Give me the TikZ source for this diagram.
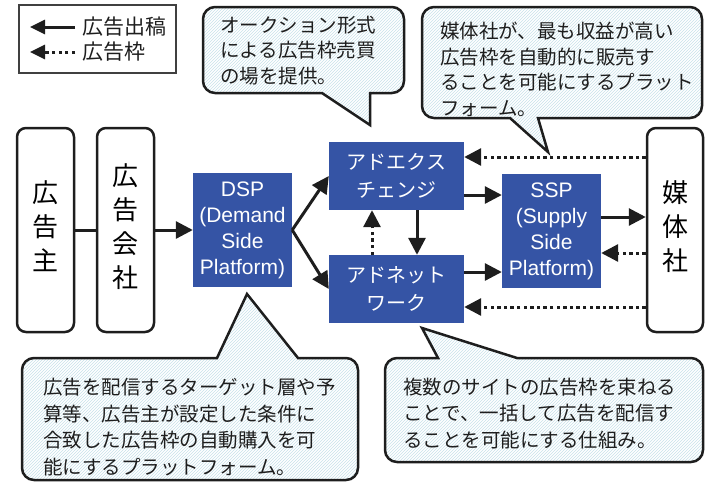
\documentclass[tikz,border=0pt]{standalone}
\usepackage{fontspec}
\setmainfont{Noto Sans CJK JP}
\newfontfamily\latfont{Liberation Sans}
\usetikzlibrary{arrows.meta,patterns}
\definecolor{boxblue}{RGB}{53,84,165}
\definecolor{ink}{RGB}{30,30,30}
\definecolor{hatch}{RGB}{200,226,234}
\begin{document}
\begin{tikzpicture}[x=1pt,y=-1pt,
  whitebox/.style={draw=ink,line width=2.5pt,rounded corners=9pt,fill=white,minimum width=57pt,minimum height=204pt,inner sep=0pt,align=center,font=\fontsize{26}{34}\selectfont},
  bluebox/.style={fill=boxblue,text=white,inner sep=0pt,align=center},
  jpblue/.style={bluebox,minimum width=135pt,minimum height=68pt,font=\fontsize{20}{28}\selectfont},
  latblue/.style={bluebox,minimum width=99pt,minimum height=114pt,font=\latfont\fontsize{21}{26}\selectfont},
  conn/.style={draw=ink,line width=3pt,-{Triangle[length=17pt,width=17pt]}},
  dotconn/.style={conn,dash pattern=on 3.3pt off 3.3pt},
  legconn/.style={draw=ink,line width=3pt,-{Triangle[length=15pt,width=14pt]}},
  legdot/.style={legconn,dash pattern=on 3.3pt off 3.3pt},
  bubble/.style={draw=ink,line width=2.5pt,preaction={fill=white},pattern=north east lines,pattern color=hatch},
  btext/.style={anchor=west,align=left,inner sep=0pt,text=ink,font=\fontsize{19.5}{25.5}\selectfont},
  btextb/.style={btext,font=\fontsize{19.5}{26.7}\selectfont},
  legtext/.style={anchor=west,inner sep=0pt,text=ink,font=\fontsize{21}{21}\selectfont}
]
\useasboundingbox (0,0) rectangle (707,483);

% legend
\node[draw=ink!85,line width=1.3pt,minimum width=157pt,minimum height=68pt,inner sep=0pt] (legend) at (97.5,39) {};
\node[legtext] (l1) at (82,27) {広告出稿};
\node[legtext] (l2) at (82,52) {広告枠};
\coordinate (l1e) at (30,27);
\coordinate (l2e) at (30,52);
\draw[legconn] ([xshift=-7pt]l1.west) -- (l1e);
\draw[legdot] ([xshift=-7pt]l2.west) -- (l2e);

% callouts
\draw[bubble] (215,7) -- (392,7) arc[start angle=-90,end angle=0,radius=12] -- (404,81) arc[start angle=0,end angle=90,radius=12] -- (370,93) -- (370,125) -- (322,93) -- (215,93) arc[start angle=90,end angle=180,radius=12] -- (203,19) arc[start angle=180,end angle=270,radius=12] -- cycle;
\draw[bubble] (434,7) -- (690,7) arc[start angle=-90,end angle=0,radius=12] -- (702,106) arc[start angle=0,end angle=90,radius=12] -- (538,118) -- (548,152) -- (510,118) -- (434,118) arc[start angle=90,end angle=180,radius=12] -- (422,19) arc[start angle=180,end angle=270,radius=12] -- cycle;
\draw[bubble] (34,358) -- (217,358) -- (247,294) -- (298,358) -- (346,358) arc[start angle=-90,end angle=0,radius=12] -- (358,468) arc[start angle=0,end angle=90,radius=12] -- (34,480) arc[start angle=90,end angle=180,radius=12] -- (22,370) arc[start angle=180,end angle=270,radius=12] -- cycle;
\draw[bubble] (397,358) -- (438,358) -- (422,328) -- (517,358) -- (691,358) arc[start angle=-90,end angle=0,radius=12] -- (703,450) arc[start angle=0,end angle=90,radius=12] -- (397,462) arc[start angle=90,end angle=180,radius=12] -- (385,370) arc[start angle=180,end angle=270,radius=12] -- cycle;

\node[btext] (t1) at (220,50.5) {オークション形式\\による広告枠売買\\の場を提供。};
\node[btext] (t2) at (440,69.5) {媒体社が、最も収益が高い\\広告枠を自動的に販売す\\ることを可能にするプラット\\フォーム。};
\node[btextb] (t3) at (43,427) {広告を配信するターゲット層や予\\算等、広告主が設定した条件に\\合致した広告枠の自動購入を可\\能にするプラットフォーム。};
\node[btextb] (t4) at (403,413.5) {複数のサイトの広告枠を束ねる\\ことで、一括して広告を配信す\\ることを可能にする仕組み。};

% main nodes
\node[whitebox] (adv) at (45.5,230) {\raisebox{-3pt}{\begin{tabular}{@{}c@{}}広\\告\\主\end{tabular}}};
\node[whitebox] (agency) at (125.5,230) {\raisebox{-3pt}{\begin{tabular}{@{}c@{}}広\\告\\会\\社\end{tabular}}};
\node[whitebox,minimum width=56pt] (media) at (675,230) {\raisebox{-3pt}{\begin{tabular}{@{}c@{}}媒\\体\\社\end{tabular}}};
\node[latblue] (dsp) at (242.5,230) {DSP\\(Demand\\Side\\Platform)};
\node[jpblue] (adex) at (396.5,176) {アドエクス\\チェンジ};
\node[jpblue] (adnet) at (396.5,289) {アドネット\\ワーク};
\node[latblue] (ssp) at (551.5,231) {SSP\\(Supply\\Side\\Platform)};

% connectors
\draw[draw=ink,line width=3pt] (adv.east) -- (agency.west);
\draw[conn] (agency.east) -- (dsp.west);
\draw[conn] (dsp.east) -- (adex.west);
\draw[conn] (dsp.east) -- (adnet.west);
\draw[conn] ([xshift=20.5pt]adex.south) -- ([xshift=20.5pt]adnet.north);
\draw[dotconn] ([xshift=-24.5pt]adnet.north) -- ([xshift=-24.5pt]adex.south);
\draw[conn] ([yshift=-19pt]adex.east) -- ([yshift=-19pt]adex.east -| ssp.west);
\draw[conn] ([yshift=17pt]adnet.east) -- ([yshift=17pt]adnet.east -| ssp.west);
\draw[conn] ([yshift=14pt]ssp.east) -- ([yshift=14pt]ssp.east -| media.west);
\draw[dotconn] ([yshift=-22pt]ssp.east -| media.west) -- ([yshift=-22pt]ssp.east);
\draw[dotconn] ([yshift=19pt]adex.east -| media.west) -- ([yshift=19pt]adex.east);
\draw[dotconn] ([yshift=-18pt]adnet.east -| media.west) -- ([yshift=-18pt]adnet.east);
\end{tikzpicture}
\end{document}
